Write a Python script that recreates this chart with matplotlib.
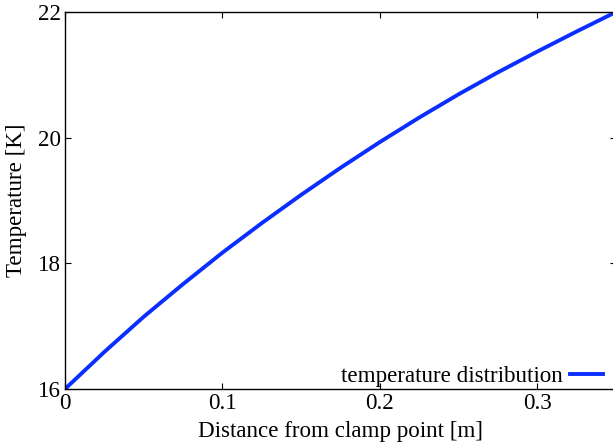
import matplotlib
matplotlib.use("Agg")
import matplotlib.pyplot as plt

distance = [0.0, 0.025, 0.05, 0.075, 0.1, 0.125, 0.15, 0.175, 0.2, 0.225, 0.25, 0.275, 0.3, 0.325, 0.35]
temperature = [16.00, 16.59, 17.15, 17.67, 18.17, 18.64, 19.09, 19.52, 19.93, 20.32, 20.69, 21.04, 21.37, 21.69, 22.00]
xticks = [0, 0.1, 0.2, 0.3]
xticklabels = ["0", "0.1", "0.2", "0.3"]
yticks = [16, 18, 20, 22]

plt.rcParams['font.family'] = ['Liberation Serif', 'DejaVu Serif']

fig = plt.figure(figsize=(6.13, 4.47), dpi=100)
ax = fig.add_axes([65/613, 58/447, 551/613, 377/447])
ax.plot(distance, temperature, color='#0a2eff', lw=2.8, label='temperature distribution')
ax.set_xlim(0, 0.35)
ax.set_ylim(16, 22)
ax.set_xticks(xticks)
ax.set_xticklabels(xticklabels)
ax.set_yticks(yticks)
ax.tick_params(direction='in', top=True, right=True, length=4, width=0.8, labelsize=16.6, pad=3)
for s in ax.spines.values():
    s.set_linewidth(1.0)
ax.set_xlabel('Distance from clamp point [m]', fontsize=16.6, labelpad=5)
ax.set_ylabel('Temperature [K]', fontsize=16.6, labelpad=8)
ax.legend(loc='lower right', bbox_to_anchor=(1 - 11/551, 0.0), frameon=False, markerfirst=False,
          fontsize=16.6, handlelength=1.4, borderaxespad=0.0, borderpad=0.1, handletextpad=0.35)
fig.savefig('out.png', dpi=100)
